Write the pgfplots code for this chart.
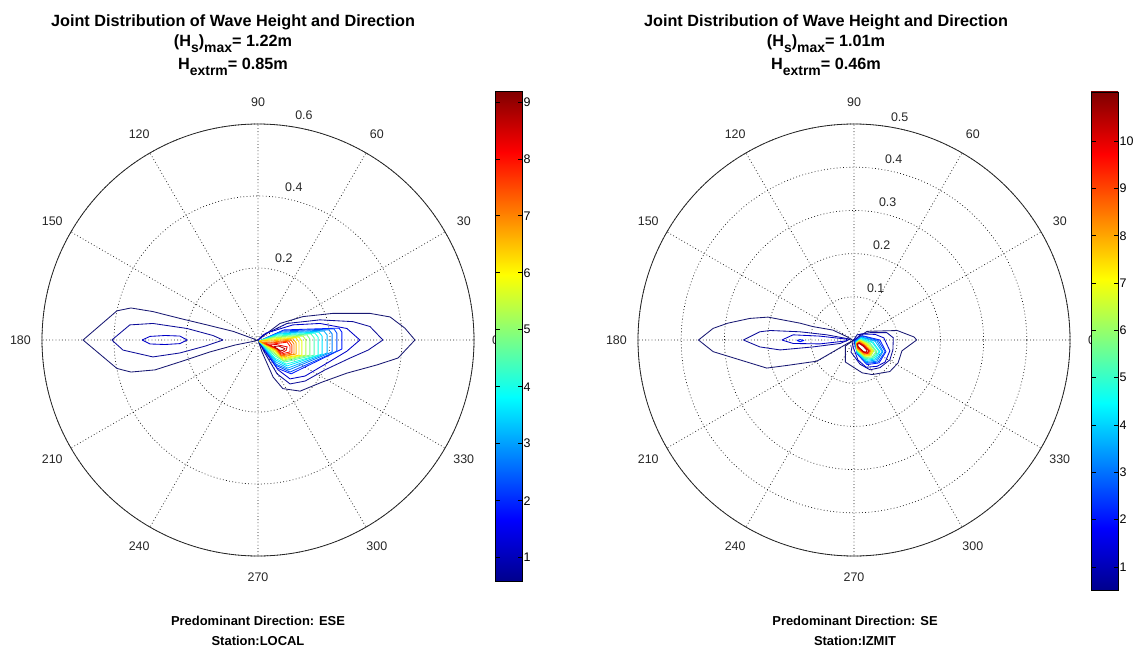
\documentclass[border=0pt]{standalone}
\usepackage{fontspec}
\setmainfont{Liberation Sans}
\usepackage{pgfplots}
\pgfplotsset{compat=1.18}
\usepgfplotslibrary{polar}
\pgfplotsset{/pgf/number format/assume math mode=true}
\definecolor{j0}{rgb}{0.1,0.1,0.45}
\definecolor{j1}{rgb}{0.05,0.05,0.6}
\definecolor{j2}{rgb}{0,0,0.78}
\definecolor{j3}{rgb}{0,0.1,1}
\definecolor{j4}{rgb}{0,0.3,1}
\definecolor{j5}{rgb}{0,0.5,1}
\definecolor{j6}{rgb}{0,0.7,1}
\definecolor{j7}{rgb}{0,0.9,1}
\definecolor{j8}{rgb}{0.1,1,0.9}
\definecolor{j9}{rgb}{0.3,1,0.7}
\definecolor{j10}{rgb}{0.5,1,0.5}
\definecolor{j11}{rgb}{0.7,1,0.3}
\definecolor{j12}{rgb}{0.9,1,0.1}
\definecolor{j13}{rgb}{1,0.9,0}
\definecolor{j14}{rgb}{1,0.7,0}
\definecolor{j15}{rgb}{1,0.5,0}
\definecolor{j16}{rgb}{1,0.3,0}
\definecolor{j17}{rgb}{1,0.1,0}
\definecolor{j18}{rgb}{0.9,0,0}
\definecolor{j19}{rgb}{0.7,0,0}
\definecolor{jA}{rgb}{0,0,0.55}
\definecolor{jB}{rgb}{0,0,1}
\definecolor{jC}{rgb}{0,1,1}
\definecolor{jD}{rgb}{1,1,0}
\definecolor{jE}{rgb}{1,0,0}
\definecolor{jF}{rgb}{0.5,0,0}
\pgfdeclareverticalshading{jetv}{100bp}{color(0bp)=(jA); color(25bp)=(jA); color(31.25bp)=(jB); color(43.75bp)=(jC); color(56.25bp)=(jD); color(68.75bp)=(jE); color(75bp)=(jF); color(100bp)=(jF)}
\newcommand\tfont{\fontsize{16.3}{16.3}\selectfont\bfseries}
\newcommand\sub[1]{\raisebox{-6bp}{\fontsize{14}{14}\selectfont\bfseries #1}}
\newcommand\lfont{\fontsize{12.5}{12.5}\selectfont}
\newcommand\xfont{\fontsize{13}{13}\selectfont\bfseries}
\pgfplotsset{
  mypolar/.style={
    scale only axis, width=432bp, height=432bp, anchor=center,
    xmin=0, xmax=360, ymin=0,
    xtick={0,30,...,330},
    xticklabels={}, yticklabels={},
    grid=major,
    major grid style={black!90, line width=0.7bp, dash pattern=on 0.8bp off 2.4bp},
    separate axis lines,
    axis line style={black!85, line width=0.8bp},
    y axis line style={draw=none},
    major tick length=0pt,
    every axis plot/.append style={line width=0.85bp, line join=round, no markers},
  },
  c/.style={data cs=cart, #1},
  mycb/.style={
    anchor=south west, scale only axis, axis on top,
    xmin=0, xmax=1, xtick=\empty,
    tick align=inside, ytick pos=both, yticklabel pos=right,
    major tick length=4.5bp, tick style={black, line width=0.6bp},
    axis line style={black, line width=0.6bp},
    yticklabel style={font=\lfont, inner sep=1.5bp},
  },
}
\begin{document}
\begin{tikzpicture}[x=1bp,y=1bp]
\useasboundingbox (0,0) rectangle (1140,-655);

% ================= LEFT =================
\begin{polaraxis}[mypolar, at={(258bp,-340bp)}, ymax=0.6, ytick={0.2,0.4,0.6}]
% west lobe
\addplot[c=j0] coordinates {(-0.003,-0.001) (-0.014,0.004) (-0.069,0.024) (-0.142,0.042) (-0.217,0.060) (-0.292,0.079) (-0.353,0.089) (-0.392,0.081) (-0.486,0) (-0.392,-0.079) (-0.353,-0.089) (-0.286,-0.083) (-0.208,-0.058) (-0.133,-0.033) (-0.064,-0.014) (-0.014,-0.004) (-0.003,-0.001)};
\addplot[c=j1] coordinates {(-0.097,0) (-0.125,0.0125) (-0.197,0.032) (-0.292,0.046) (-0.356,0.042) (-0.406,0) (-0.375,-0.028) (-0.292,-0.047) (-0.217,-0.036) (-0.147,-0.017) (-0.097,0)};
\addplot[c=j2] coordinates {(-0.322,0) (-0.3,0.010) (-0.258,0.0125) (-0.217,0.011) (-0.197,0) (-0.217,-0.010) (-0.258,-0.0125) (-0.3,-0.011) (-0.322,0)};
% east lobe
\addplot[c=j0] coordinates {(0,0) (0.061,0.046) (0.125,0.065) (0.208,0.074) (0.311,0.074) (0.367,0.064) (0.408,0.033) (0.436,0) (0.389,-0.05) (0.331,-0.069) (0.247,-0.092) (0.178,-0.117) (0.117,-0.142) (0.069,-0.135) (0.042,-0.103) (0.011,-0.033) (0,0)};
\addplot[c=j1] coordinates {(0,0) (0.014,0.014) (0.081,0.046) (0.172,0.056) (0.264,0.051) (0.311,0.0375) (0.347,0) (0.306,-0.028) (0.256,-0.05) (0.186,-0.083) (0.131,-0.114) (0.089,-0.122) (0.053,-0.094) (0.017,-0.033) (0,0)};
\addplot[c=j2] coordinates {(0,0) (0.022,0.019) (0.097,0.042) (0.172,0.046) (0.247,0.032) (0.283,0) (0.247,-0.031) (0.192,-0.064) (0.131,-0.1) (0.089,-0.108) (0.056,-0.083) (0.019,-0.031) (0,0)};
\addplot[c=j3] coordinates {(0.003,-0.003) (0.072,0.028) (0.225,0.033) (0.233,0.022) (0.233,-0.025) (0.092,-0.094) (0.053,-0.078) (0.003,-0.003)};
\addplot[c=j4] coordinates {(0.003,-0.003) (0.067,0.025) (0.211,0.031) (0.219,0.019) (0.219,-0.031) (0.089,-0.089) (0.053,-0.072) (0.003,-0.003)};
\addplot[c=j5] coordinates {(0.003,-0.003) (0.064,0.022) (0.197,0.028) (0.206,0.017) (0.206,-0.033) (0.086,-0.083) (0.05,-0.067) (0.003,-0.003)};
\addplot[c=j6] coordinates {(0.003,-0.003) (0.058,0.019) (0.183,0.025) (0.192,0.014) (0.192,-0.036) (0.083,-0.078) (0.05,-0.061) (0.003,-0.003)};
\addplot[c=j7] coordinates {(0.003,-0.003) (0.056,0.017) (0.169,0.022) (0.178,0.011) (0.178,-0.039) (0.081,-0.072) (0.05,-0.056) (0.003,-0.003)};
\addplot[c=j8] coordinates {(0.003,-0.003) (0.053,0.014) (0.158,0.019) (0.167,0.008) (0.167,-0.042) (0.078,-0.067) (0.047,-0.05) (0.003,-0.003)};
\addplot[c=j9] coordinates {(0.003,-0.003) (0.05,0.011) (0.147,0.017) (0.156,0.006) (0.156,-0.042) (0.075,-0.061) (0.047,-0.044) (0.003,-0.003)};
\addplot[c=j10] coordinates {(0.003,-0.003) (0.044,0.008) (0.136,0.014) (0.144,0.003) (0.144,-0.042) (0.072,-0.058) (0.047,-0.039) (0.003,-0.003)};
\addplot[c=j11] coordinates {(0.003,-0.003) (0.042,0.006) (0.125,0.011) (0.133,0) (0.133,-0.042) (0.069,-0.056) (0.044,-0.033) (0.003,-0.003)};
\addplot[c=j12] coordinates {(0.003,-0.003) (0.039,0.003) (0.114,0.008) (0.122,-0.003) (0.122,-0.042) (0.069,-0.053) (0.047,-0.031) (0.003,-0.003)};
\addplot[c=j13] coordinates {(0.003,-0.003) (0.036,0) (0.106,0.006) (0.114,-0.006) (0.114,-0.042) (0.067,-0.05) (0.049,-0.029) (0.003,-0.003)};
\addplot[c=j14] coordinates {(0.003,-0.003) (0.033,-0.003) (0.097,0.003) (0.106,-0.008) (0.106,-0.039) (0.067,-0.047) (0.05,-0.028) (0.003,-0.003)};
\addplot[c=j15] coordinates {(0.011,-0.007) (0.036,-0.006) (0.092,0) (0.1,-0.011) (0.1,-0.039) (0.064,-0.044) (0.051,-0.026) (0.011,-0.007)};
\addplot[c=j16] coordinates {(0.017,-0.009) (0.039,-0.008) (0.086,-0.003) (0.094,-0.014) (0.094,-0.036) (0.064,-0.042) (0.053,-0.025) (0.017,-0.009)};
\addplot[c=j17] coordinates {(0.022,-0.011) (0.042,-0.011) (0.081,-0.006) (0.089,-0.017) (0.089,-0.033) (0.064,-0.039) (0.054,-0.024) (0.022,-0.011)};
\addplot[c=j18] coordinates {(0.031,-0.014) (0.05,-0.0125) (0.081,-0.019) (0.078,-0.029) (0.067,-0.035) (0.056,-0.026) (0.031,-0.014)};
\addplot[c=j19] coordinates {(0.044,-0.018) (0.058,-0.017) (0.075,-0.024) (0.069,-0.029) (0.058,-0.028) (0.044,-0.018)};
\end{polaraxis}

% ================= RIGHT =================
\begin{polaraxis}[mypolar, at={(854bp,-340bp)}, ymax=0.5, ytick={0.1,0.2,0.3,0.4,0.5}]
% west lobe
\addplot[c=j0] coordinates {(-0.002,-0.001) (-0.017,0.008) (-0.049,0.023) (-0.095,0.031) (-0.125,0.039) (-0.199,0.053) (-0.241,0.050) (-0.292,0.039) (-0.326,0.027) (-0.360,0) (-0.326,-0.027) (-0.264,-0.046) (-0.202,-0.065) (-0.156,-0.059) (-0.086,-0.049) (-0.017,-0.009) (-0.002,-0.001)};
\addplot[c=j1] coordinates {(-0.256,0) (-0.218,0.019) (-0.194,0.022) (-0.125,0.019) (-0.063,0.012) (-0.009,0.002) (-0.032,-0.008) (-0.095,-0.016) (-0.171,-0.023) (-0.218,-0.016) (-0.256,0)};
\addplot[c=j2] coordinates {(-0.167,0) (-0.141,0.012) (-0.079,0.009) (-0.017,0.002) (-0.017,-0.002) (-0.079,-0.009) (-0.141,-0.008) (-0.167,0)};
\addplot[c=j3] coordinates {(-0.132,-0.001) (-0.125,0.001) (-0.116,-0.001) (-0.125,-0.004) (-0.132,-0.001)};
% east lobe
\addplot[c=j0] coordinates {(0,0) (0.030,0.020) (0.1,0.022) (0.139,0.007) (0.145,0) (0.111,-0.025) (0.102,-0.053) (0.083,-0.073) (0.042,-0.080) (0.019,-0.076) (-0.020,-0.051) (-0.020,-0.014) (0,0)};
\addplot[c=j1] coordinates {(-0.002,-0.002) (0.007,0.012) (0.037,0.017) (0.076,0.017) (0.091,0.005) (0.090,-0.023) (0.083,-0.046) (0.060,-0.064) (0.037,-0.069) (0.014,-0.056) (-0.007,-0.028) (-0.002,-0.002)};
\addplot[c=j2] coordinates {(0.002,0) (0.016,0.014) (0.049,0.013) (0.069,0.005) (0.083,-0.025) (0.072,-0.051) (0.053,-0.061) (0.028,-0.063) (0.009,-0.046) (-0.001,-0.019) (0.002,0)};
\addplot[c=j3] coordinates {(0.002,-0.002) (0.019,0.010) (0.060,0) (0.074,-0.027) (0.058,-0.053) (0.030,-0.057) (0.007,-0.032) (0.002,-0.002)};
\addplot[c=j4] coordinates {(0.002,-0.003) (0.019,0.009) (0.056,-0.001) (0.072,-0.027) (0.056,-0.051) (0.030,-0.054) (0.007,-0.031) (0.002,-0.003)};
\addplot[c=j5] coordinates {(0.003,-0.003) (0.017,0.007) (0.053,-0.002) (0.067,-0.027) (0.053,-0.049) (0.029,-0.052) (0.007,-0.030) (0.003,-0.003)};
\addplot[c=j6] coordinates {(0.003,-0.005) (0.017,0.006) (0.049,-0.003) (0.065,-0.027) (0.051,-0.046) (0.028,-0.050) (0.007,-0.029) (0.003,-0.005)};
\addplot[c=j7] coordinates {(0.005,-0.005) (0.016,0.005) (0.044,-0.005) (0.060,-0.027) (0.049,-0.044) (0.028,-0.047) (0.007,-0.028) (0.005,-0.005)};
\addplot[c=j8] coordinates {(0.005,-0.006) (0.016,0.003) (0.042,-0.006) (0.058,-0.027) (0.046,-0.042) (0.028,-0.045) (0.007,-0.027) (0.005,-0.006)};
\addplot[c=j9] coordinates {(0.005,-0.006) (0.015,0.002) (0.037,-0.007) (0.053,-0.027) (0.044,-0.041) (0.027,-0.043) (0.007,-0.025) (0.005,-0.006)};
\addplot[c=j10] coordinates {(0.005,-0.007) (0.015,0.001) (0.035,-0.008) (0.051,-0.027) (0.042,-0.039) (0.027,-0.041) (0.007,-0.024) (0.005,-0.007)};
\addplot[c=j11] coordinates {(0.005,-0.007) (0.014,0) (0.032,-0.009) (0.046,-0.025) (0.039,-0.037) (0.025,-0.038) (0.007,-0.023) (0.005,-0.007)};
\addplot[c=j12] coordinates {(0.006,-0.007) (0.014,-0.001) (0.030,-0.009) (0.044,-0.025) (0.037,-0.036) (0.025,-0.037) (0.007,-0.022) (0.006,-0.007)};
\addplot[c=j13] coordinates {(0.006,-0.008) (0.014,-0.002) (0.028,-0.010) (0.042,-0.025) (0.036,-0.035) (0.025,-0.035) (0.008,-0.021) (0.006,-0.008)};
\addplot[c=j14] coordinates {(0.006,-0.008) (0.014,-0.003) (0.027,-0.012) (0.039,-0.025) (0.035,-0.034) (0.024,-0.034) (0.008,-0.020) (0.006,-0.008)};
\addplot[c=j15] coordinates {(0.007,-0.008) (0.013,-0.005) (0.025,-0.012) (0.037,-0.025) (0.034,-0.032) (0.024,-0.032) (0.008,-0.019) (0.007,-0.008)};
\addplot[c=j16] coordinates {(0.007,-0.009) (0.013,-0.006) (0.024,-0.013) (0.036,-0.025) (0.032,-0.031) (0.023,-0.030) (0.009,-0.019) (0.007,-0.009)};
\addplot[c=j17] coordinates {(0.007,-0.009) (0.012,-0.006) (0.023,-0.013) (0.035,-0.025) (0.031,-0.031) (0.023,-0.029) (0.009,-0.017) (0.007,-0.009)};
\addplot[c=j18] coordinates {(0.007,-0.009) (0.012,-0.007) (0.022,-0.013) (0.034,-0.025) (0.030,-0.030) (0.023,-0.028) (0.009,-0.016) (0.007,-0.009)};
\addplot[c=j19] coordinates {(0.008,-0.010) (0.012,-0.008) (0.021,-0.014) (0.030,-0.024) (0.028,-0.028) (0.022,-0.027) (0.010,-0.016) (0.008,-0.010)};
\end{polaraxis}

% ---- angle labels ----
\foreach \a in {0,30,...,330} {
  \node[font=\lfont, text=black!85, inner sep=0] at ([shift={(\a:237.6)}]258,-340) {\a};
  \node[font=\lfont, text=black!85, inner sep=0] at ([shift={(\a:237.6)}]854,-340) {\a};
}
% ---- radius labels ----
\foreach \r/\t in {75.6/0.2, 147.6/0.4, 219.6/0.6}
  \node[font=\lfont, text=black!85, inner sep=0, anchor=south west, xshift=6.5bp, yshift=2.5bp] at ([shift={(82:\r)}]258,-340) {\t};
\foreach \r/\t in {45.36/0.1, 88.56/0.2, 131.76/0.3, 174.96/0.4, 218.16/0.5}
  \node[font=\lfont, text=black!85, inner sep=0, anchor=south west, xshift=6.5bp, yshift=2.5bp] at ([shift={(82:\r)}]854,-340) {\t};

% ---- colorbars ----
\begin{axis}[mycb, at={(495bp,-581bp)}, width=27bp, height=490bp,
  ymin=0.59, ymax=9.19, ytick={1,2,...,9}]
\shade[shading=jetv] (axis cs:0,0.59) rectangle (axis cs:1,9.19);
\end{axis}
\begin{axis}[mycb, at={(1091bp,-590bp)}, width=27bp, height=498bp,
  ymin=0.51, ymax=11.04, ytick={1,2,...,10}]
\shade[shading=jetv] (axis cs:0,0.51) rectangle (axis cs:1,11.04);
\end{axis}

% ---- titles ----
\node[anchor=base, font=\tfont, inner sep=0] at (233,-26.5) {Joint Distribution of Wave Height and Direction};
\node[anchor=base, font=\tfont, inner sep=0] at (233,-47) {(H\sub{s})\sub{max}= 1.22m};
\node[anchor=base, font=\tfont, inner sep=0] at (233,-70) {H\sub{extrm}= 0.85m};
\node[anchor=base, font=\tfont, inner sep=0] at (826,-26.5) {Joint Distribution of Wave Height and Direction};
\node[anchor=base, font=\tfont, inner sep=0] at (826,-47) {(H\sub{s})\sub{max}= 1.01m};
\node[anchor=base, font=\tfont, inner sep=0] at (826,-70) {H\sub{extrm}= 0.46m};
% ---- bottom labels ----
\node[anchor=base, font=\xfont, inner sep=0] at (258,-625.5) {Predominant Direction: ESE};
\node[anchor=base, font=\xfont, inner sep=0] at (258,-645.5) {Station:LOCAL};
\node[anchor=base, font=\xfont, inner sep=0] at (855,-625.5) {Predominant Direction: SE};
\node[anchor=base, font=\xfont, inner sep=0] at (855,-645.5) {Station:IZMIT};
\end{tikzpicture}
\end{document}
